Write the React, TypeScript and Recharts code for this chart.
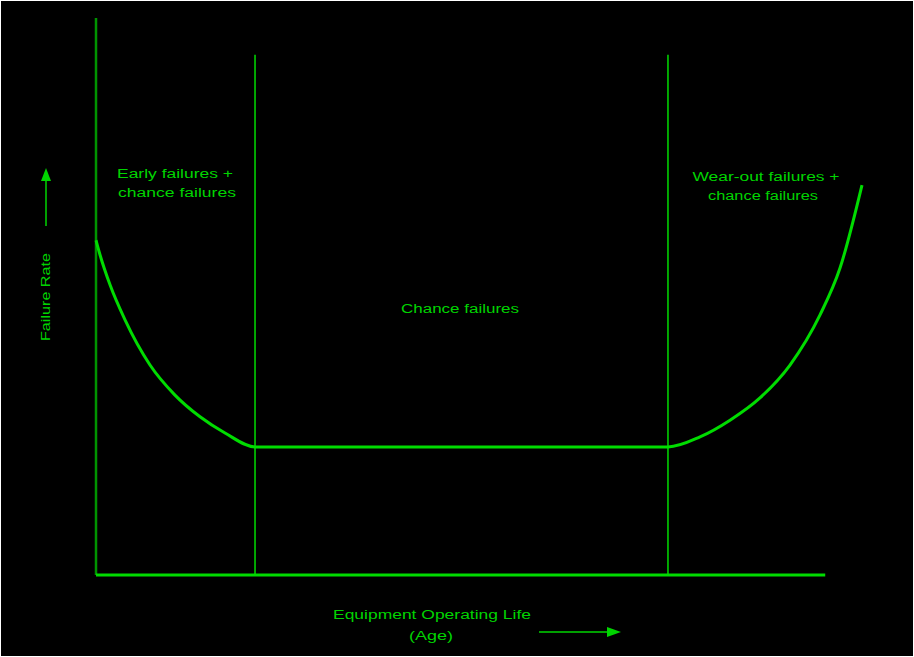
import React from 'react';
import { LineChart, Line, XAxis, YAxis, ReferenceLine } from 'recharts';

// Bathtub curve: equipment age (0-100) vs failure rate (0-100)
const ages = [0, 0.52, 1.83, 3.79, 7.05, 10.31, 13.58, 16.84, 20.76, 74.67, 78.85, 82.77, 86.68, 90.6, 94.52, 97.13, 100];
const failureRates = [60.1, 57.5, 52.1, 45.8, 37.7, 32.3, 28.4, 25.5, 23.0, 23.0, 24.8, 27.8, 31.8, 37.7, 46.7, 55.1, 70.0];
const phaseBoundaries = [20.76, 74.67];
const axisEnd = 95.2;
const dividerTop = 93.4;

const data = ages.map((a, i) => ({ age: a, rate: failureRates[i] }));

const GREEN = '#00dc00';
const TEXT_GREEN = '#00d400';
const FONT = '"Liberation Sans", Arial, sans-serif';

export default function App() {
  return (
    <div style={{ position: 'absolute', left: 0, top: 0, width: 914, height: 657, background: '#fff' }}>
      <div style={{ position: 'absolute', left: 1, top: 1 }}>
        <LineChart
          width={912}
          height={655}
          data={data}
          margin={{ top: 17, right: 51, bottom: 81, left: 95 }}
          style={{ background: '#000' }}
        >
          <XAxis dataKey="age" type="number" domain={[0, 100]} hide />
          <YAxis type="number" domain={[0, 100]} hide />
          <ReferenceLine x={0} stroke="#009400" strokeWidth={2.5} ifOverflow="visible" />
          <ReferenceLine
            segment={[{ x: 0, y: 0 }, { x: axisEnd, y: 0 }]}
            stroke={GREEN}
            strokeWidth={3}
            ifOverflow="visible"
          />
          {phaseBoundaries.map((b) => (
            <ReferenceLine
              key={b}
              segment={[{ x: b, y: 0 }, { x: b, y: dividerTop }]}
              stroke={GREEN}
              strokeWidth={1.5}
              ifOverflow="visible"
            />
          ))}
          <Line
            dataKey="rate"
            type="monotone"
            stroke={GREEN}
            strokeWidth={3}
            dot={false}
            isAnimationActive={false}
          />
          <g fontFamily={FONT} fontSize={12} fill={TEXT_GREEN}>
            <text x={174} y={177} textAnchor="middle" textLength={116} lengthAdjust="spacingAndGlyphs">Early failures +</text>
            <text x={176} y={196} textAnchor="middle" textLength={118} lengthAdjust="spacingAndGlyphs">chance failures</text>
            <text x={765} y={180} textAnchor="middle" textLength={147} lengthAdjust="spacingAndGlyphs">Wear-out failures +</text>
            <text x={762} y={199} textAnchor="middle" textLength={110} lengthAdjust="spacingAndGlyphs">chance failures</text>
            <text x={459} y={312} textAnchor="middle" textLength={118} lengthAdjust="spacingAndGlyphs">Chance failures</text>
            <text x={431} y={618} textAnchor="middle" textLength={198} lengthAdjust="spacingAndGlyphs">Equipment Operating Life</text>
            <text x={430} y={639} textAnchor="middle" textLength={44} lengthAdjust="spacingAndGlyphs">(Age)</text>
            <text
              x={0}
              y={0}
              transform="translate(49 296) rotate(-90)"
              textAnchor="middle"
              textLength={88}
              lengthAdjust="spacingAndGlyphs"
            >
              Failure Rate
            </text>
          </g>
          <g stroke={TEXT_GREEN} fill={TEXT_GREEN}>
            <line x1={45} y1={225} x2={45} y2={178} strokeWidth={1.5} />
            <polygon points="45,167 40,180 50,180" stroke="none" />
            <line x1={538} y1={631} x2={608} y2={631} strokeWidth={1.5} />
            <polygon points="620,631 606,626 606,636" stroke="none" />
          </g>
        </LineChart>
      </div>
    </div>
  );
}
